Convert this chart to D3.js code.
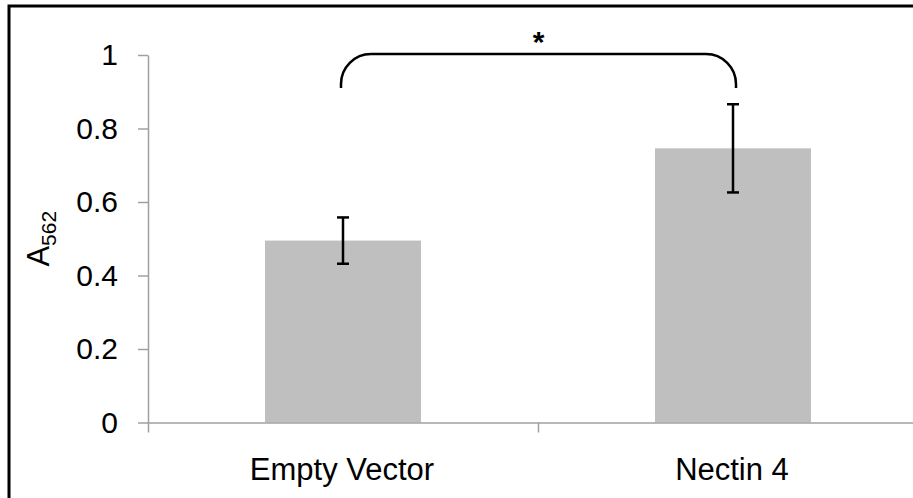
<!DOCTYPE html>
<html lang="en">
<head>
  <meta charset="UTF-8">
  <title>A562 bar chart</title>
  <style>
    body { margin: 0; background: #fff; }
    svg text { font-family: "Liberation Sans", Arial, sans-serif; fill: #000; }
  </style>
</head>
<body>
  <div class="canvas"></div>
  <script src="https://d3js.org/d3.v7.min.js"></script>
  <script>
    const categories = ['Empty Vector', 'Nectin 4'];
    const values = [0.495, 0.746];
    const errors = [0.063, 0.12];
    const yTicks = [0, 0.2, 0.4, 0.6, 0.8, 1];
    const sigLabel = '*';

    const width = 913;
    const height = 498;
    const margin = {top: 55, left: 148, bottom: 75.5};
    const axisColor = '#a0a0a0';

    const svg = d3.select('.canvas')
      .append('svg')
      .attr('width', width)
      .attr('height', height);

    // outer frame (runs off the right and bottom edges)
    svg.append('rect')
      .attr('x', 9).attr('y', 6)
      .attr('width', 960).attr('height', 560)
      .attr('fill', 'none')
      .attr('stroke', '#000')
      .attr('stroke-width', 3);

    const y = d3.scaleLinear()
      .domain([0, 1])
      .range([height - margin.bottom, margin.top]);

    const x = d3.scaleBand()
      .domain(categories)
      .range([margin.left, margin.left + 780]);

    const xEdge = d3.scaleLinear()
      .domain([0, categories.length])
      .range(x.range());

    // bars
    const barW = x.bandwidth() * 0.4;
    svg.selectAll('rect.bar')
      .data(categories)
      .enter()
      .append('rect')
      .attr('class', 'bar')
      .attr('x', d => x(d) + (x.bandwidth() - barW) / 2)
      .attr('width', barW)
      .attr('y', (d, i) => y(values[i]))
      .attr('height', (d, i) => y(0) - y(values[i]))
      .attr('fill', '#bfbfbf');

    // x axis: ticks at category boundaries
    const gX = svg.append('g')
      .attr('transform', `translate(0, ${y(0)})`)
      .call(d3.axisBottom(xEdge).tickValues([0, 1, 2]).tickSize(10).tickSizeOuter(0).tickFormat(''));
    gX.select('.domain').attr('stroke', axisColor).attr('stroke-width', 1.5);
    gX.selectAll('.tick line').attr('stroke', axisColor).attr('stroke-width', 1.5);

    // category labels
    svg.selectAll('text.cat')
      .data(categories)
      .enter()
      .append('text')
      .attr('class', 'cat')
      .attr('x', d => x(d) + x.bandwidth() / 2 - 1)
      .attr('y', y(0) + 57)
      .attr('text-anchor', 'middle')
      .style('font-size', '31px')
      .text(d => d);

    // y axis
    const gY = svg.append('g')
      .attr('transform', `translate(${margin.left}, 0)`)
      .call(d3.axisLeft(y).tickValues(yTicks).tickSize(10).tickSizeOuter(0).tickPadding(20)
        .tickFormat(d => d3.format('~g')(d)));
    gY.select('.domain').attr('stroke', axisColor).attr('stroke-width', 1.5);
    gY.selectAll('.tick line').attr('stroke', axisColor).attr('stroke-width', 1.5);
    gY.selectAll('text')
      .style('font-size', '30px')
      .style('font-family', '"Liberation Sans", Arial, sans-serif')
      .attr('fill', '#000');

    // y title A562
    const title = svg.append('text')
      .attr('transform', `translate(49, ${(y(0) + y(1)) / 2}) rotate(-90)`)
      .attr('text-anchor', 'middle')
      .style('font-size', '31px');
    title.append('tspan').text('A');
    title.append('tspan').attr('dy', 7).style('font-size', '21px').text('562');

    // error bars
    const cap = 6;
    const eb = svg.selectAll('g.err')
      .data(categories)
      .enter()
      .append('g')
      .attr('class', 'err')
      .attr('stroke', '#000')
      .attr('stroke-width', 2.5);
    const cx = d => x(d) + x.bandwidth() / 2;
    eb.append('line')
      .attr('x1', cx).attr('x2', cx)
      .attr('y1', (d, i) => y(values[i] + errors[i]))
      .attr('y2', (d, i) => y(values[i] - errors[i]));
    eb.append('line')
      .attr('x1', d => cx(d) - cap).attr('x2', d => cx(d) + cap)
      .attr('y1', (d, i) => y(values[i] + errors[i]))
      .attr('y2', (d, i) => y(values[i] + errors[i]));
    eb.append('line')
      .attr('x1', d => cx(d) - cap).attr('x2', d => cx(d) + cap)
      .attr('y1', (d, i) => y(values[i] - errors[i]))
      .attr('y2', (d, i) => y(values[i] - errors[i]));

    // significance bracket
    const bx1 = cx(categories[0]) - 2;
    const bx2 = cx(categories[1]) + 3;
    const bTop = y(1) - 1;
    const bBot = bTop + 34;
    const r = 30;
    const path = d3.path();
    path.moveTo(bx1, bBot);
    path.arcTo(bx1, bTop, bx1 + r, bTop, r);
    path.lineTo(bx2 - r, bTop);
    path.arcTo(bx2, bTop, bx2, bBot, r);
    path.lineTo(bx2, bBot);
    svg.append('path')
      .attr('d', path.toString())
      .attr('fill', 'none')
      .attr('stroke', '#000')
      .attr('stroke-width', 2.5);

    svg.append('text')
      .attr('x', (bx1 + bx2) / 2)
      .attr('y', bTop - 2)
      .attr('text-anchor', 'middle')
      .style('font-size', '30px')
      .style('font-weight', 'bold')
      .text(sigLabel);
  </script>
</body>
</html>
